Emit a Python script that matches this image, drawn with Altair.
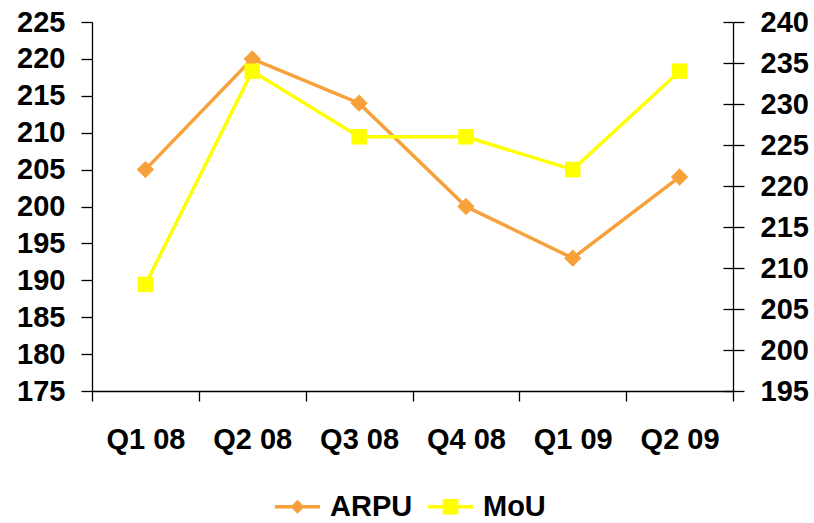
import altair as alt
import pandas as pd

# Quarterly ARPU (left axis) and minutes of use (right axis)
quarters = ["Q1 08", "Q2 08", "Q3 08", "Q4 08", "Q1 09", "Q2 09"]
arpu = [205, 220, 214, 200, 193, 204]
mou = [208, 234, 226, 226, 222, 234]
series_names = ["ARPU", "MoU"]

arpu_ticks = list(range(175, 226, 5))
mou_ticks = list(range(195, 241, 5))

ORANGE = "#F8A03A"
YELLOW = "#FFFF00"
FONT = "Liberation Sans"
PLOT_W, PLOT_H = 641, 369

df_arpu = pd.DataFrame({"quarter": quarters, "value": arpu})
df_mou = pd.DataFrame({"quarter": quarters, "value": mou})
df_legend = pd.DataFrame({"series": series_names})

x_enc = alt.X(
    "quarter:N",
    sort=quarters,
    title=None,
    bandPosition=0.5,
    scale=alt.Scale(type="band", paddingInner=0, paddingOuter=0),
    axis=alt.Axis(
        orient="bottom",
        labelAngle=0,
        tickBand="extent",
        tickSize=10,
        labelPadding=24,
        labelOverlap=False,
    ),
)

y_left = alt.Y(
    "value:Q",
    title=None,
    scale=alt.Scale(domain=[arpu_ticks[0], arpu_ticks[-1]], nice=False, zero=False),
    axis=alt.Axis(orient="left", values=arpu_ticks, tickSize=11, labelPadding=16,
                  labelOverlap=False),
)

mou_scale = alt.Scale(domain=[mou_ticks[0], mou_ticks[-1]], nice=False, zero=False)
y_right = alt.Y(
    "value:Q",
    title=None,
    scale=mou_scale,
    axis=alt.Axis(orient="right", values=mou_ticks, tickSize=11, labelPadding=16,
                  labelOverlap=False),
)
# inward half of the crossing ticks on the right-hand axis
y_right_inner = alt.Y(
    "value:Q",
    title=None,
    scale=mou_scale,
    axis=alt.Axis(orient="left", offset=-PLOT_W, values=mou_ticks, tickSize=10,
                  labels=False, domain=False),
)

arpu_layer = alt.layer(
    alt.Chart(df_arpu).mark_line(color=ORANGE, strokeWidth=3.5).encode(x=x_enc, y=y_left),
    alt.Chart(df_arpu).mark_point(shape="diamond", filled=True, size=300, color=ORANGE,
                                  opacity=1).encode(x=x_enc, y=y_left),
)

mou_layer = alt.layer(
    alt.Chart(df_mou).mark_line(color=YELLOW, strokeWidth=3.5).encode(x=x_enc, y=y_right),
    alt.Chart(df_mou).mark_point(shape="square", filled=True, size=240, color=YELLOW,
                                 opacity=1).encode(x=x_enc, y=y_right),
)

mou_inner_ticks = alt.Chart(df_mou).mark_point(opacity=0).encode(x=x_enc, y=y_right_inner)

# legend symbols: a line stub with the series marker on it
legend_paths = [
    "M-1,0L1,0M0,-0.2L0.2,0L0,0.2L-0.2,0Z",
    "M-1,0L1,0M-0.27,-0.27L0.27,-0.27L0.27,0.27L-0.27,0.27Z",
]
legend_def = alt.Legend(
    title=None,
    orient="none",
    legendX=181,
    legendY=460,
    direction="horizontal",
    labelFont=FONT,
    labelFontSize=29,
    labelFontWeight="bold",
    labelColor="black",
    symbolSize=2025,
    symbolStrokeWidth=3.5,
    labelOffset=8,
    columnPadding=8,
)
legend_layer = (
    alt.Chart(df_legend)
    .transform_filter("false")
    .mark_point(filled=True, opacity=1)
    .encode(
        fill=alt.Fill("series:N", scale=alt.Scale(domain=series_names, range=[ORANGE, YELLOW]),
                      legend=legend_def),
        stroke=alt.Stroke("series:N", scale=alt.Scale(domain=series_names, range=[ORANGE, YELLOW]),
                          legend=legend_def),
        shape=alt.Shape("series:N", scale=alt.Scale(domain=series_names, range=legend_paths),
                        legend=legend_def),
    )
)

chart = (
    alt.layer(arpu_layer, mou_layer, mou_inner_ticks, legend_layer)
    .resolve_scale(y="independent")
    .properties(
        width=PLOT_W,
        height=PLOT_H,
        autosize=alt.AutoSizeParams(type="none"),
        padding={"left": 92, "top": 22, "right": 814 - 92 - PLOT_W, "bottom": 523 - 22 - PLOT_H},
        background="white",
    )
    .configure_view(stroke=None)
    .configure_axis(
        grid=False,
        domainColor="black",
        domainWidth=1.3,
        tickColor="black",
        tickWidth=1.3,
        labelColor="black",
        labelFont=FONT,
        labelFontSize=29,
        labelFontWeight="bold",
    )
)

chart.save("out.html", embed_options={"renderer": "svg", "actions": False})
